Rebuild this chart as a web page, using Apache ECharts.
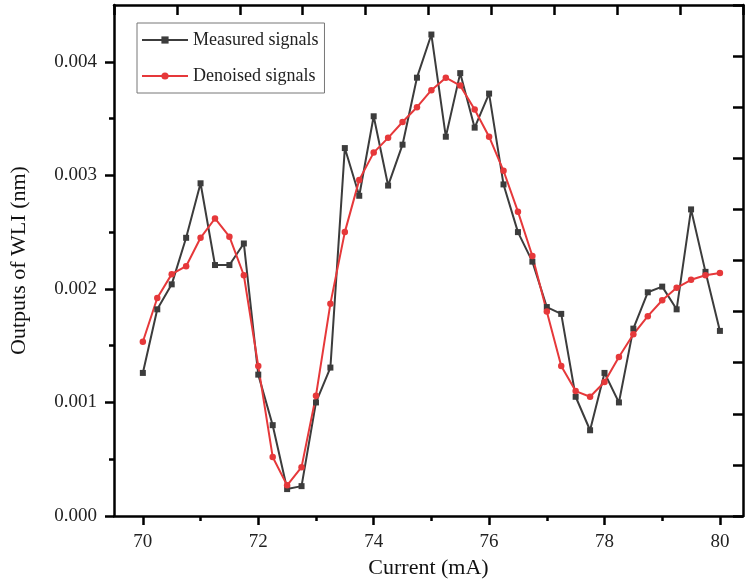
<!DOCTYPE html>
<html>
<head>
<meta charset="utf-8">
<script src="https://cdn.jsdelivr.net/npm/echarts@6/dist/echarts.min.js"></script>
<style>html,body{margin:0;padding:0;background:#fff;}#c{width:750px;height:585px;}</style>
</head>
<body>
<div id="c"></div>
<script>
const current = [70,70.25,70.5,70.75,71,71.25,71.5,71.75,72,72.25,72.5,72.75,73,73.25,73.5,73.75,74,74.25,74.5,74.75,75,75.25,75.5,75.75,76,76.25,76.5,76.75,77,77.25,77.5,77.75,78,78.25,78.5,78.75,79,79.25,79.5,79.75,80];
const measured = [0.00126,0.00182,0.00204,0.00245,0.00293,0.00221,0.00221,0.00240,0.001245,0.00080,0.000237,0.000263,0.00100,0.001307,0.00324,0.00282,0.00352,0.00291,0.00327,0.00386,0.00424,0.00334,0.00390,0.00342,0.00372,0.00292,0.00250,0.00224,0.00184,0.00178,0.00105,0.000755,0.00126,0.00100,0.00165,0.00197,0.00202,0.00182,0.00270,0.00215,0.00163];
const denoised = [0.001535,0.00192,0.00213,0.00220,0.00245,0.00262,0.00246,0.00212,0.00132,0.00052,0.00027,0.00043,0.00106,0.00187,0.00250,0.00296,0.00320,0.00333,0.00347,0.00360,0.00375,0.00386,0.00379,0.00358,0.00334,0.00304,0.00268,0.00229,0.00180,0.00132,0.00110,0.00105,0.00118,0.00140,0.00160,0.00176,0.00190,0.00201,0.00208,0.00212,0.00214];
const xMajorTicks = [70,72,74,76,78,80];
const xMinorTicks = [71,73,75,77,79];
const yTicks = [0,0.001,0.002,0.003,0.004];
const yMinorTicks = [0.0005,0.0015,0.0025,0.0035];
const seriesNames = ['Measured signals','Denoised signals'];

const font = '"Liberation Serif", "Times New Roman", serif';
const chart = echarts.init(document.getElementById('c'), null, {renderer:'canvas'});
const axisLine = {show:true, onZero:false, lineStyle:{color:'#000', width:2.5}};
const noLine = {show:false, onZero:false};
const pair = (xs, ys) => xs.map((x,i)=>[x, ys[i]]);

chart.setOption({
  animation:false,
  backgroundColor:'#fff',
  grid:{left:111, right:7, top:5, bottom:69, containLabel:false},
  legend:{
    left:137, top:23, orient:'vertical',
    itemWidth:46, itemHeight:9, itemGap:18,
    padding:[8,6,8,4],
    borderColor:'#777', borderWidth:1,
    textStyle:{fontFamily:font, fontSize:18, color:'#222'},
    data:seriesNames
  },
  xAxis:[
    {type:'value', position:'bottom', min:69.5, max:80.4,
     name:'Current (mA)', nameLocation:'middle', nameGap:40,
     nameTextStyle:{fontFamily:font, fontSize:22, color:'#111'},
     axisLine:axisLine,
     axisTick:{show:true, inside:false, length:9, customValues:xMajorTicks, lineStyle:{color:'#000', width:2.5}},
     axisLabel:{show:true, margin:17, customValues:xMajorTicks, fontFamily:font, fontSize:19, color:'#222'},
     splitLine:{show:false}},
    {type:'value', position:'top', min:0, max:10, interval:1,
     axisLine:axisLine,
     axisTick:{show:true, inside:true, length:10, lineStyle:{color:'#000', width:2.5}},
     axisLabel:{show:false}, splitLine:{show:false}},
    {type:'value', position:'bottom', min:69.5, max:80.4,
     axisLine:noLine,
     axisTick:{show:true, inside:false, length:5, customValues:xMinorTicks, lineStyle:{color:'#000', width:2.5}},
     axisLabel:{show:false, customValues:xMinorTicks},
     splitLine:{show:false}}
  ],
  yAxis:[
    {type:'value', position:'left', min:0, max:0.0045,
     name:'Outputs of WLI (nm)', nameLocation:'middle', nameGap:84, nameRotate:90,
     nameTextStyle:{fontFamily:font, fontSize:22, color:'#111'},
     axisLine:axisLine,
     axisTick:{show:true, inside:false, length:9, customValues:yTicks, lineStyle:{color:'#000', width:2.5}},
     axisLabel:{margin:17, customValues:yTicks, fontFamily:font, fontSize:19, color:'#222', formatter:v=>v.toFixed(3)},
     splitLine:{show:false}},
    {type:'value', position:'right', min:0, max:10, interval:1,
     axisLine:axisLine,
     axisTick:{show:true, inside:true, length:10, lineStyle:{color:'#000', width:2.5}},
     axisLabel:{show:false}, splitLine:{show:false}},
    {type:'value', position:'left', min:0, max:0.0045,
     axisLine:noLine,
     axisTick:{show:true, inside:false, length:5, customValues:yMinorTicks, lineStyle:{color:'#000', width:2.5}},
     axisLabel:{show:false, customValues:yMinorTicks},
     splitLine:{show:false}}
  ],
  series:[
    {name:seriesNames[0], type:'line', xAxisIndex:0, yAxisIndex:0,
     data:pair(current, measured),
     symbol:'rect', symbolSize:6, showAllSymbol:true,
     itemStyle:{color:'#3c3c3c'}, lineStyle:{color:'#3c3c3c', width:2}},
    {name:seriesNames[1], type:'line', xAxisIndex:0, yAxisIndex:0,
     data:pair(current, denoised),
     symbol:'circle', symbolSize:6.5, showAllSymbol:true,
     itemStyle:{color:'#e6383a'}, lineStyle:{color:'#e6383a', width:2}}
  ]
});
</script>
</body>
</html>
